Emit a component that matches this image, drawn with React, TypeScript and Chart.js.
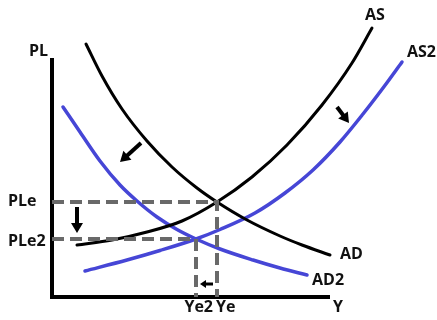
import { useEffect, useRef } from 'react';
import { Chart, registerables } from 'chart.js';

Chart.register(...registerables);

// Output (Y) and price level (PL) pairs for each curve
const AD: [number, number][] = [
  [3.4, 25.3], [5.0, 22.1], [7.0, 18.8], [9.5, 15.6], [12.0, 13.0],
  [14.5, 10.9], [16.5, 9.5], [19.5, 7.7], [22.8, 6.1], [25.0, 5.2], [27.8, 4.2],
];
const AS: [number, number][] = [
  [2.5, 5.2], [6.0, 5.7], [9.5, 6.5], [13.0, 7.6], [16.5, 9.5], [20.0, 12.0],
  [23.5, 15.2], [27.0, 19.2], [30.0, 23.4], [32.0, 26.9],
];
const AD2: [number, number][] = [
  [1.1, 19.0], [2.8, 16.5], [4.8, 13.6], [6.8, 11.2], [8.5, 9.6], [10.5, 8.0],
  [12.5, 6.75], [14.4, 5.8], [16.8, 4.8], [20.1, 3.7], [22.8, 2.9], [25.5, 2.2],
];
const AS2: [number, number][] = [
  [3.3, 2.6], [7.5, 3.7], [10.8, 4.65], [14.4, 5.8], [16.8, 6.75], [20.3, 8.4],
  [23.3, 10.4], [26.1, 12.7], [28.8, 15.5], [31.1, 18.3], [33.1, 20.9],
  [35.0, 23.5],
];

// Equilibria: [Y, PL]
const EQ1: [number, number] = [16.5, 9.5];
const EQ2: [number, number] = [14.4, 5.8];

// Axis extents
const Y_AXIS_TOP = 23.9;
const X_AXIS_END = 27.8;

// Shift arrows: [tailY, tailPL, tipY, tipPL]
const SHIFT_ARROWS: [number, number, number, number][] = [
  [8.9, 15.4, 6.8, 13.5],
  [28.5, 19.0, 29.7, 17.4],
  [2.5, 9.0, 2.5, 6.4],
];
const SMALL_ARROW: [number, number, number, number] = [16.1, 1.3, 14.8, 1.3];

const CURVE_NAMES = ['AD', 'AS', 'AD2', 'AS2'];
const AXIS_NAMES = ['PL', 'Y'];
const EQ_NAMES = ['PLe', 'PLe2', 'Ye', 'Ye2'];

const BLACK = '#000000';
const BLUE = '#4646d6';
const GREY = '#696969';

const toPts = (arr: [number, number][]) => arr.map(([x, y]) => ({ x, y }));

export default function App() {
  const ref = useRef<HTMLCanvasElement | null>(null);

  useEffect(() => {
    if (!ref.current) return;

    const drawArrow = (
      ctx: CanvasRenderingContext2D,
      x0: number, y0: number, x1: number, y1: number,
      shaft: number, headLen: number, headW: number,
    ) => {
      const dx = x1 - x0;
      const dy = y1 - y0;
      const len = Math.hypot(dx, dy);
      const ux = dx / len;
      const uy = dy / len;
      const bx = x1 - ux * headLen;
      const by = y1 - uy * headLen;
      ctx.save();
      ctx.strokeStyle = BLACK;
      ctx.fillStyle = BLACK;
      ctx.lineWidth = shaft;
      ctx.lineCap = 'butt';
      ctx.beginPath();
      ctx.moveTo(x0, y0);
      ctx.lineTo(bx + ux, by + uy);
      ctx.stroke();
      ctx.beginPath();
      ctx.moveTo(x1, y1);
      ctx.lineTo(bx - uy * headW / 2, by + ux * headW / 2);
      ctx.lineTo(bx + uy * headW / 2, by - ux * headW / 2);
      ctx.closePath();
      ctx.fill();
      ctx.restore();
    };

    const overlay = {
      id: 'overlay',
      afterDatasetsDraw(chart: any) {
        const { ctx } = chart;
        const sx = chart.scales.x;
        const sy = chart.scales.y;
        const px = (v: number) => sx.getPixelForValue(v);
        const py = (v: number) => sy.getPixelForValue(v);

        SHIFT_ARROWS.forEach(([a, b, c, d]) =>
          drawArrow(ctx, px(a), py(b), px(c), py(d), 4, 10, 12));
        drawArrow(ctx, px(SMALL_ARROW[0]), py(SMALL_ARROW[1]),
          px(SMALL_ARROW[2]), py(SMALL_ARROW[3]), 3, 6, 8);

        ctx.save();
        ctx.fillStyle = '#111111';
        ctx.font = 'bold 16px "Open Sans"';
        ctx.textBaseline = 'middle';

        const put = (t: string, x: number, y: number, align: CanvasTextAlign) => {
          ctx.textAlign = align;
          ctx.fillText(t, x, y);
        };

        const endOf = (arr: [number, number][]) => arr[arr.length - 1];
        const [adE, asE, ad2E, as2E] = [endOf(AD), endOf(AS), endOf(AD2), endOf(AS2)];
        put(CURVE_NAMES[0], px(adE[0]) + 10, py(adE[1]) - 1, 'left');
        put(CURVE_NAMES[1], px(asE[0]) - 7, py(asE[1]) - 13, 'left');
        put(CURVE_NAMES[2], px(ad2E[0]) + 5, py(ad2E[1]) + 5, 'left');
        put(CURVE_NAMES[3], px(as2E[0]) + 5, py(as2E[1]) - 10, 'left');

        put(AXIS_NAMES[0], px(0) - 4, py(Y_AXIS_TOP) - 7, 'right');
        put(AXIS_NAMES[1], px(X_AXIS_END) + 3, py(0) + 10, 'left');

        put(EQ_NAMES[0], 8, py(EQ1[1]) - 1, 'left');
        put(EQ_NAMES[1], 8, py(EQ2[1]) + 2, 'left');
        put(EQ_NAMES[2], px(EQ1[0]) - 1, py(0) + 10, 'left');
        put(EQ_NAMES[3], px(EQ2[0]) + 17, py(0) + 10, 'right');
        ctx.restore();
      },
    };

    const curve = (data: [number, number][], color: string, width: number) => ({
      data: toPts(data),
      borderColor: color,
      borderWidth: width,
      pointRadius: 0,
      cubicInterpolationMode: 'monotone' as const,
      borderCapStyle: 'round' as const,
      fill: false,
    });

    const guide = (eq: [number, number]) => ({
      data: toPts([[0, eq[1]], eq, [eq[0], 0]]),
      borderColor: GREY,
      borderWidth: 4,
      borderDash: [12, 6],
      pointRadius: 0,
      tension: 0,
      fill: false,
    });

    const chart = new Chart(ref.current, {
      type: 'line',
      data: {
        datasets: [
          guide(EQ1),
          guide(EQ2),
          {
            data: toPts([[0, Y_AXIS_TOP], [0, 0], [X_AXIS_END, 0]]),
            borderColor: BLACK,
            borderWidth: 4,
            borderJoinStyle: 'miter',
            pointRadius: 0,
            tension: 0,
            fill: false,
          },
          curve(AD, BLACK, 3),
          curve(AS, BLACK, 3),
          curve(AD2, BLUE, 3.5),
          curve(AS2, BLUE, 3.5),
        ],
      },
      options: {
        animation: false,
        responsive: true,
        maintainAspectRatio: false,
        layout: { padding: 0 },
        plugins: { legend: { display: false }, tooltip: { enabled: false } },
        scales: {
          x: { type: 'linear', min: -5.2, max: 38.5, display: false },
          y: { type: 'linear', min: -2.3, max: 29.7, display: false },
        },
      },
      plugins: [overlay],
    });

    return () => chart.destroy();
  }, []);

  return (
    <div style={{ position: 'absolute', left: 0, top: 0, width: 437, height: 320, background: '#ffffff' }}>
      <canvas ref={ref} />
    </div>
  );
}
